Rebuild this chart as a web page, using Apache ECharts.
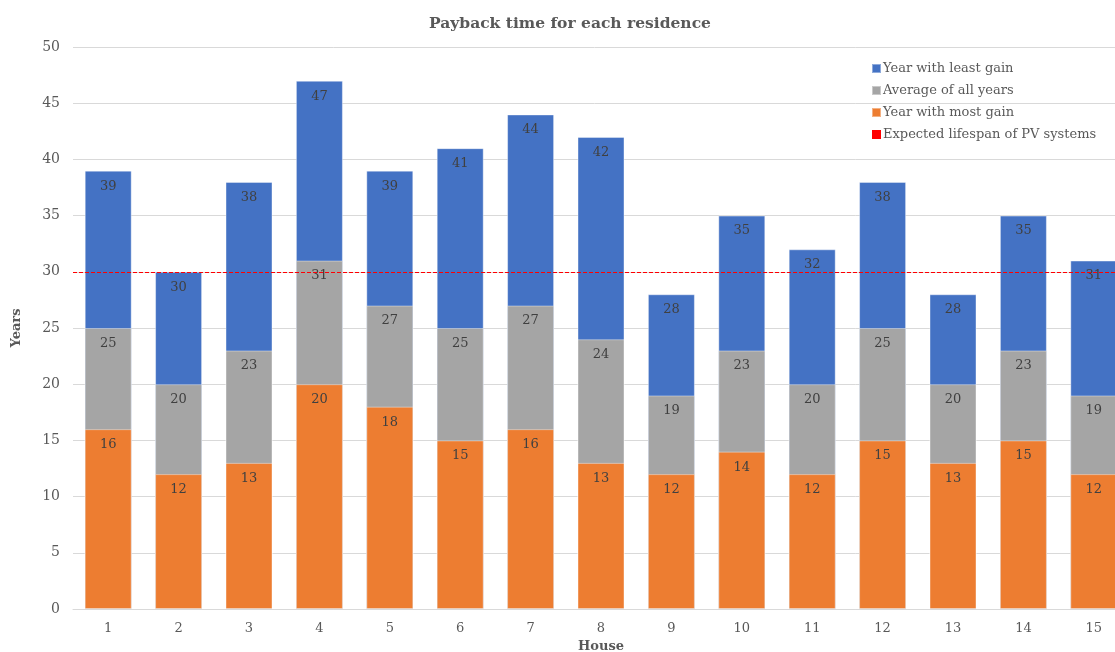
<!DOCTYPE html>
<html>
<head>
<meta charset="utf-8">
<script src="https://cdn.jsdelivr.net/npm/echarts@6/dist/echarts.min.js"></script>
<style>
  html, body { margin: 0; padding: 0; background: #fff; }
  #chart { width: 1115px; height: 652px; }
</style>
</head>
<body>
<div id="chart"></div>
<script>
// data
const houses = ['1', '2', '3', '4', '5', '6', '7', '8', '9', '10', '11', '12', '13', '14', '15'];
const leastGain = [39, 30, 38, 47, 39, 41, 44, 42, 28, 35, 32, 38, 28, 35, 31];
const averageAll = [25, 20, 23, 31, 27, 25, 27, 24, 19, 23, 20, 25, 20, 23, 19];
const mostGain = [16, 12, 13, 20, 18, 15, 16, 13, 12, 14, 12, 15, 13, 15, 12];
const lifespan = 30;
const yTicks = [0, 5, 10, 15, 20, 25, 30, 35, 40, 45, 50];

const font = "'DejaVu Serif', 'Liberation Serif', serif";
const labelStyle = {
  show: true,
  position: 'insideTop',
  distance: 9,
  color: '#404040',
  fontFamily: font,
  fontSize: 13
};

function barSeries(name, color, data) {
  return {
    name: name,
    type: 'bar',
    barWidth: 47,
    barGap: '-100%',
    itemStyle: { color: color, borderColor: 'rgba(255,255,255,0.4)', borderWidth: 1 },
    label: labelStyle,
    data: data
  };
}

const chart = echarts.init(document.getElementById('chart'));
chart.setOption({
  animation: false,
  textStyle: { fontFamily: font },
  title: {
    text: 'Payback time for each residence',
    left: 424,
    top: 11,
    textStyle: { fontFamily: font, fontSize: 15.5, fontWeight: 'bold', color: '#595959' }
  },
  legend: {
    orient: 'vertical',
    left: 866,
    top: 57,
    itemGap: 9,
    itemWidth: 9,
    itemHeight: 9,
    icon: 'rect',
    textStyle: { fontFamily: font, fontSize: 13, color: '#595959', padding: [0, 0, 0, -3] },
    data: ['Year with least gain', 'Average of all years', 'Year with most gain', 'Expected lifespan of PV systems']
  },
  grid: { left: 73, top: 47, width: 1056, bottom: 43, outerBoundsMode: 'none', containLabel: false },
  xAxis: {
    type: 'category',
    data: houses,
    name: 'House',
    nameLocation: 'middle',
    nameGap: 30,
    nameTextStyle: { fontFamily: font, fontSize: 13, fontWeight: 'bold', color: '#595959' },
    axisLine: { lineStyle: { color: '#d9d9d9' } },
    axisTick: { show: false },
    axisLabel: { color: '#595959', fontFamily: font, fontSize: 13, margin: 13 }
  },
  yAxis: {
    type: 'value',
    min: yTicks[0],
    max: yTicks[yTicks.length - 1],
    interval: yTicks[1] - yTicks[0],
    name: 'Years',
    nameLocation: 'middle',
    nameGap: 50,
    nameTextStyle: { fontFamily: font, fontSize: 13, fontWeight: 'bold', color: '#595959' },
    axisLine: { show: false },
    axisTick: { show: false },
    splitLine: { lineStyle: { color: '#d9d9d9' } },
    axisLabel: { color: '#595959', fontFamily: font, fontSize: 14, margin: 13 }
  },
  series: [
    barSeries('Year with least gain', '#4472c4', leastGain),
    barSeries('Average of all years', '#a5a5a5', averageAll),
    barSeries('Year with most gain', '#ed7d31', mostGain),
    {
      name: 'Expected lifespan of PV systems',
      type: 'line',
      data: [],
      itemStyle: { color: '#ff0000' },
      lineStyle: { color: '#ff0000' },
      markLine: {
        symbol: 'none',
        silent: true,
        label: { show: false },
        lineStyle: { color: '#ff0000', type: [4, 2], width: 1, opacity: 1 },
        data: [{ yAxis: lifespan, lineStyle: { color: '#ff0000' } }]
      }
    }
  ]
});
</script>
</body>
</html>
